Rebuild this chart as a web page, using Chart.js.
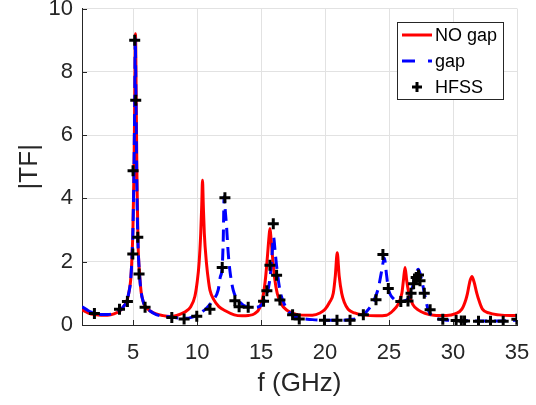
<!DOCTYPE html>
<html><head><meta charset="utf-8">
<style>html,body{margin:0;padding:0;background:#fff;}#wrap{width:536px;height:405px;}</style>
<script src="https://cdn.jsdelivr.net/npm/chart.js@4"></script>
</head><body><div id="wrap"><canvas id="c" width="536" height="405"></canvas></div>
<script>
const xTicks = [5, 10, 15, 20, 25, 30, 35];
const yTicks = [0, 2, 4, 6, 8, 10];

const noGapF = [1.0,1.5,2.0,2.5,3.0,3.5,4.0,4.24,4.5,4.65,4.8,4.89,4.98,5.06,5.12,5.18,5.24,5.3,5.38,5.5,5.62,5.8,5.93,6.3,6.8,7.3,7.86,8.4,9.0,9.5,9.82,10.0,10.15,10.28,10.36,10.42,10.48,10.56,10.73,10.9,11.0,11.3,11.7,12.2,12.9,13.5,14.0,14.5,14.9,15.17,15.35,15.5,15.62,15.69,15.76,15.88,16.05,16.26,16.6,17.0,17.5,18.0,19.0,19.6,20.0,20.35,20.64,20.8,20.95,21.1,21.3,21.5,21.8,22.3,23.0,24.0,24.8,25.3,25.7,26.0,26.12,26.25,26.38,26.55,26.85,27.3,27.8,28.5,29.5,30.2,30.69,31.0,31.13,31.3,31.47,31.65,31.86,32.05,32.3,32.8,33.6,34.5,35.0];
const noGapY = [0.48,0.38,0.33,0.31,0.31,0.35,0.46,0.58,0.75,1.0,1.4,2.0,3.0,4.8,7.0,9.2,7.0,4.5,2.6,1.6,1.05,0.72,0.6,0.45,0.35,0.3,0.27,0.3,0.4,0.58,0.9,1.35,1.95,2.9,3.8,4.57,3.8,2.9,1.95,1.35,1.1,0.8,0.58,0.45,0.32,0.29,0.3,0.36,0.55,0.95,1.5,2.2,2.8,3.05,2.8,2.2,1.5,1.0,0.65,0.47,0.37,0.32,0.31,0.38,0.5,0.72,1.0,1.55,2.28,1.55,1.0,0.72,0.5,0.38,0.32,0.29,0.31,0.45,0.65,1.0,1.4,1.82,1.4,1.0,0.65,0.47,0.37,0.31,0.3,0.36,0.5,0.8,1.0,1.35,1.53,1.35,1.0,0.75,0.5,0.38,0.32,0.3,0.3];

const gapF = [1.0,1.5,2.0,2.5,3.0,3.5,4.0,4.24,4.5,4.65,4.8,4.89,4.98,5.06,5.12,5.16,5.22,5.28,5.36,5.48,5.62,5.8,5.93,6.3,6.8,7.3,7.86,8.5,9.17,9.69,10.0,10.4,10.73,11.25,11.64,11.8,11.96,12.04,12.11,12.2,12.3,12.43,12.56,12.82,13.2,13.86,14.5,15.0,15.4,15.7,15.85,15.97,16.1,16.2,16.47,16.85,17.4,18.0,19.0,20.0,21.0,22.2,22.99,23.4,23.77,24.16,24.43,24.63,24.8,24.94,25.33,25.86,26.38,26.77,27.03,27.29,27.55,27.82,28.07,28.6,28.99,29.6,30.5,31.5,32.5,33.5,34.5,35.0];
const gapY = [0.58,0.45,0.37,0.33,0.33,0.37,0.47,0.58,0.75,1.0,1.4,2.0,3.0,4.8,7.0,9.05,7.0,4.6,2.8,1.7,1.05,0.72,0.6,0.45,0.33,0.28,0.26,0.22,0.21,0.26,0.3,0.42,0.53,0.79,1.1,1.5,1.85,2.7,4.05,3.6,3.1,2.26,1.72,1.1,0.79,0.58,0.56,0.62,0.9,1.5,2.2,2.78,2.3,1.9,1.1,0.63,0.32,0.22,0.17,0.15,0.15,0.18,0.32,0.5,0.74,1.16,1.73,2.12,1.6,1.16,0.84,0.74,0.79,1.1,1.52,1.76,1.42,0.89,0.47,0.24,0.18,0.15,0.14,0.13,0.13,0.13,0.14,0.15];

const hfssF = [1.97,3.93,4.55,4.97,4.99,5.12,5.2,5.36,5.46,5.93,8.02,8.98,9.97,11.0,11.96,12.17,12.95,13.28,13.99,15.19,15.45,15.69,15.95,16.21,16.47,17.46,17.98,19.95,20.93,21.95,22.99,23.98,24.52,24.94,25.92,26.48,26.72,26.92,27.12,27.3,27.42,27.75,28.21,29.2,30.24,30.65,30.9,31.99,32.93,33.92,34.99];
const hfssY = [0.36,0.5,0.74,2.24,4.87,9.0,7.1,2.77,1.61,0.56,0.24,0.19,0.28,0.5,1.82,4.02,0.77,0.58,0.56,0.75,1.08,1.89,3.2,1.57,0.79,0.32,0.19,0.15,0.15,0.15,0.32,0.8,2.23,1.15,0.74,0.76,1.0,1.3,1.5,1.58,1.4,1.0,0.48,0.18,0.14,0.13,0.13,0.12,0.12,0.12,0.18];

const seriesNames = ['NO gap', 'gap', 'HFSS'];
const FONT = '"Liberation Sans", Arial, Helvetica, sans-serif';
const AX = '#262626';
const RED = '#ff0000', BLUE = '#0000ff';

function pts(f, y) { return f.map((v, i) => ({ x: v, y: y[i] })); }

const inwardTicks = {
  id: 'inwardTicks',
  beforeDatasetsDraw(chart) {
    const ctx = chart.ctx, a = chart.chartArea, xs = chart.scales.x, ys = chart.scales.y;
    ctx.save();
    ctx.strokeStyle = AX; ctx.lineWidth = 1;
    xTicks.forEach(v => {
      const p = Math.round(xs.getPixelForValue(v)) + 0.5;
      ctx.beginPath(); ctx.moveTo(p, a.bottom); ctx.lineTo(p, a.bottom - 5); ctx.stroke();
    });
    yTicks.forEach(v => {
      const p = Math.round(ys.getPixelForValue(v)) + 0.5;
      ctx.beginPath(); ctx.moveTo(a.left, p); ctx.lineTo(a.left + 5, p); ctx.stroke();
    });
    ctx.restore();
  }
};

const boxLegend = {
  id: 'boxLegend',
  afterDraw(chart) {
    const ctx = chart.ctx;
    const bx = 397.5, by = 22.5, bw = 106, bh = 77;
    ctx.save();
    ctx.fillStyle = '#fff'; ctx.fillRect(bx, by, bw, bh);
    ctx.strokeStyle = AX; ctx.lineWidth = 1; ctx.strokeRect(bx, by, bw, bh);
    ctx.font = '18px ' + FONT; ctx.fillStyle = '#000'; ctx.textBaseline = 'middle'; ctx.textAlign = 'left';
    const rows = [35, 61, 87];
    ctx.strokeStyle = RED; ctx.lineWidth = 3; ctx.setLineDash([]);
    ctx.beginPath(); ctx.moveTo(402, rows[0]); ctx.lineTo(432, rows[0]); ctx.stroke();
    ctx.strokeStyle = BLUE; ctx.setLineDash([13, 13]);
    ctx.beginPath(); ctx.moveTo(402, rows[1]); ctx.lineTo(432, rows[1]); ctx.stroke();
    ctx.setLineDash([]);
    ctx.strokeStyle = '#000'; ctx.lineWidth = 3;
    ctx.beginPath(); ctx.moveTo(412, rows[2]); ctx.lineTo(422, rows[2]);
    ctx.moveTo(417, rows[2] - 5); ctx.lineTo(417, rows[2] + 5); ctx.stroke();
    seriesNames.forEach((n, i) => ctx.fillText(n, 435, rows[i] + 1));
    ctx.restore();
  }
};

new Chart(document.getElementById('c'), {
  type: 'scatter',
  data: {
    datasets: [
      { label: seriesNames[2], data: pts(hfssF, hfssY), pointStyle: 'cross', pointRadius: 5.5,
        pointBorderWidth: 3, borderColor: '#000', backgroundColor: '#000', showLine: false, order: 0 },
      { label: seriesNames[1], data: pts(gapF, gapY), showLine: true, borderColor: BLUE, borderWidth: 3,
        borderDash: [12, 7], pointRadius: 0, cubicInterpolationMode: 'monotone', order: 1 },
      { label: seriesNames[0], data: pts(noGapF, noGapY), showLine: true, borderColor: RED, borderWidth: 3,
        pointRadius: 0, cubicInterpolationMode: 'monotone', order: 2 }
    ]
  },
  options: {
    responsive: false, animation: false, devicePixelRatio: 1,
    layout: { padding: { left: 0, right: 19, top: 8, bottom: 0 } },
    plugins: { legend: { display: false }, tooltip: { enabled: false } },
    scales: {
      x: {
        type: 'linear', min: 1, max: 35,
        afterBuildTicks: s => { s.ticks = xTicks.map(v => ({ value: v })); },
        afterFit: s => { s.height = 80; s.paddingLeft = 0; s.paddingRight = 0; },
        grid: { color: '#e2e2e2', lineWidth: 1, drawTicks: false },
        border: { color: AX, width: 1 },
        ticks: { font: { family: FONT, size: 22 }, color: AX, padding: 15, maxRotation: 0, autoSkip: false },
        title: { display: true, text: 'f (GHz)', color: AX, font: { family: FONT, size: 26 }, padding: { top: 0, bottom: 6 } }
      },
      y: {
        type: 'linear', min: 0, max: 10,
        afterBuildTicks: s => { s.ticks = yTicks.map(v => ({ value: v })); },
        afterFit: s => { s.width = 82; s.paddingTop = 0; s.paddingBottom = 0; },
        grid: { color: '#e2e2e2', lineWidth: 1, drawTicks: false },
        border: { color: AX, width: 1 },
        ticks: { font: { family: FONT, size: 22 }, color: AX, padding: 9, autoSkip: false },
        title: { display: true, text: '|TF|', color: AX, font: { family: FONT, size: 26 }, padding: { top: 14, bottom: 0 } }
      }
    }
  },
  plugins: [inwardTicks, boxLegend]
});
</script>
</body></html>
